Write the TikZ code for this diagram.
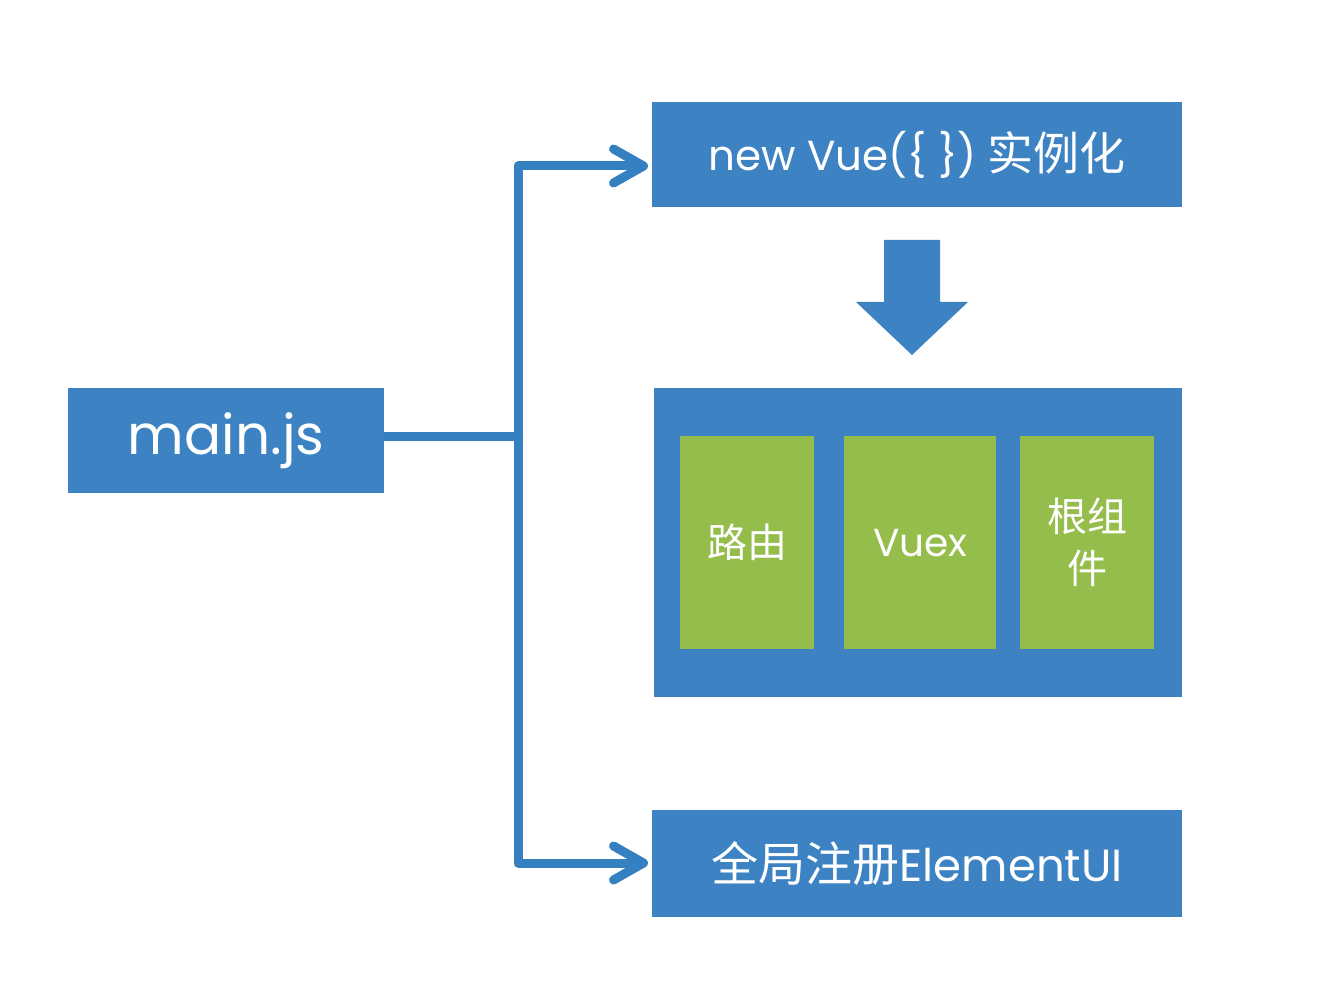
\documentclass[tikz,border=0pt]{standalone}
\usepackage{fontspec}
\setmainfont{Poppins}
\newfontfamily\cjk{Noto Sans CJK SC}
\usetikzlibrary{arrows.meta}
\definecolor{vblue}{HTML}{3D83C3}
\definecolor{lblue}{HTML}{3580C1}
\definecolor{vgreen}{HTML}{95BD4B}
\tikzset{
  bluebox/.style={fill=vblue, draw=none, text=white, inner sep=0pt, anchor=north west},
  greenbox/.style={fill=vgreen, draw=none, text=white, inner sep=0pt, anchor=north west, align=center},
  conn/.style={draw=lblue, line width=9pt, line join=round, line cap=butt},
  chev/.style={-{Straight Barb[length=30pt,width=34pt,line cap=round,line join=round]}},
}
\begin{document}
\begin{tikzpicture}[x=1pt,y=-1pt]
\useasboundingbox (0,0) rectangle (1326,984);
% boxes
\node[bluebox, minimum width=316pt, minimum height=105pt, font=\fontsize{55}{64}\selectfont] (main) at (68,388) {main.js};
\node[bluebox, minimum width=530pt, minimum height=105pt, font=\fontsize{42}{54}\selectfont] (vue) at (652,102) {new Vue(\{ \}) {\cjk\fontsize{46}{54}\selectfont 实例化}};
\node[bluebox, minimum width=528pt, minimum height=309pt] (big) at (654,388) {};
\node[greenbox, minimum width=134pt, minimum height=213pt, font=\fontsize{40}{52}\selectfont\cjk] (router) at (680,436) {路由};
\node[greenbox, minimum width=152pt, minimum height=213pt, font=\fontsize{39}{52}\selectfont] (vuex) at (844,436) {Vuex};
\node[greenbox, minimum width=134pt, minimum height=213pt, font=\fontsize{40}{52}\selectfont\cjk] (root) at (1020,436) {根组\\件};
\node[bluebox, minimum width=530pt, minimum height=107pt, font=\fontsize{45}{54}\selectfont] (eui) at (652,810) {{\cjk\fontsize{47}{54}\selectfont 全局注册}ElementUI};
% big down arrow
\fill[vblue] (884,240) -- (940,240) -- (940,302) -- (968,302) -- (912,355) -- (856,302) -- (884,302) -- cycle;
% connectors
\coordinate (j) at (518,436);
\coordinate (ta) at (648,166);
\coordinate (tb) at (648,863);
\draw[conn] (main.east |- j) -- (j);
\draw[conn, chev] (j) |- (ta);
\draw[conn, chev] (j) |- (tb);
\end{tikzpicture}
\end{document}
